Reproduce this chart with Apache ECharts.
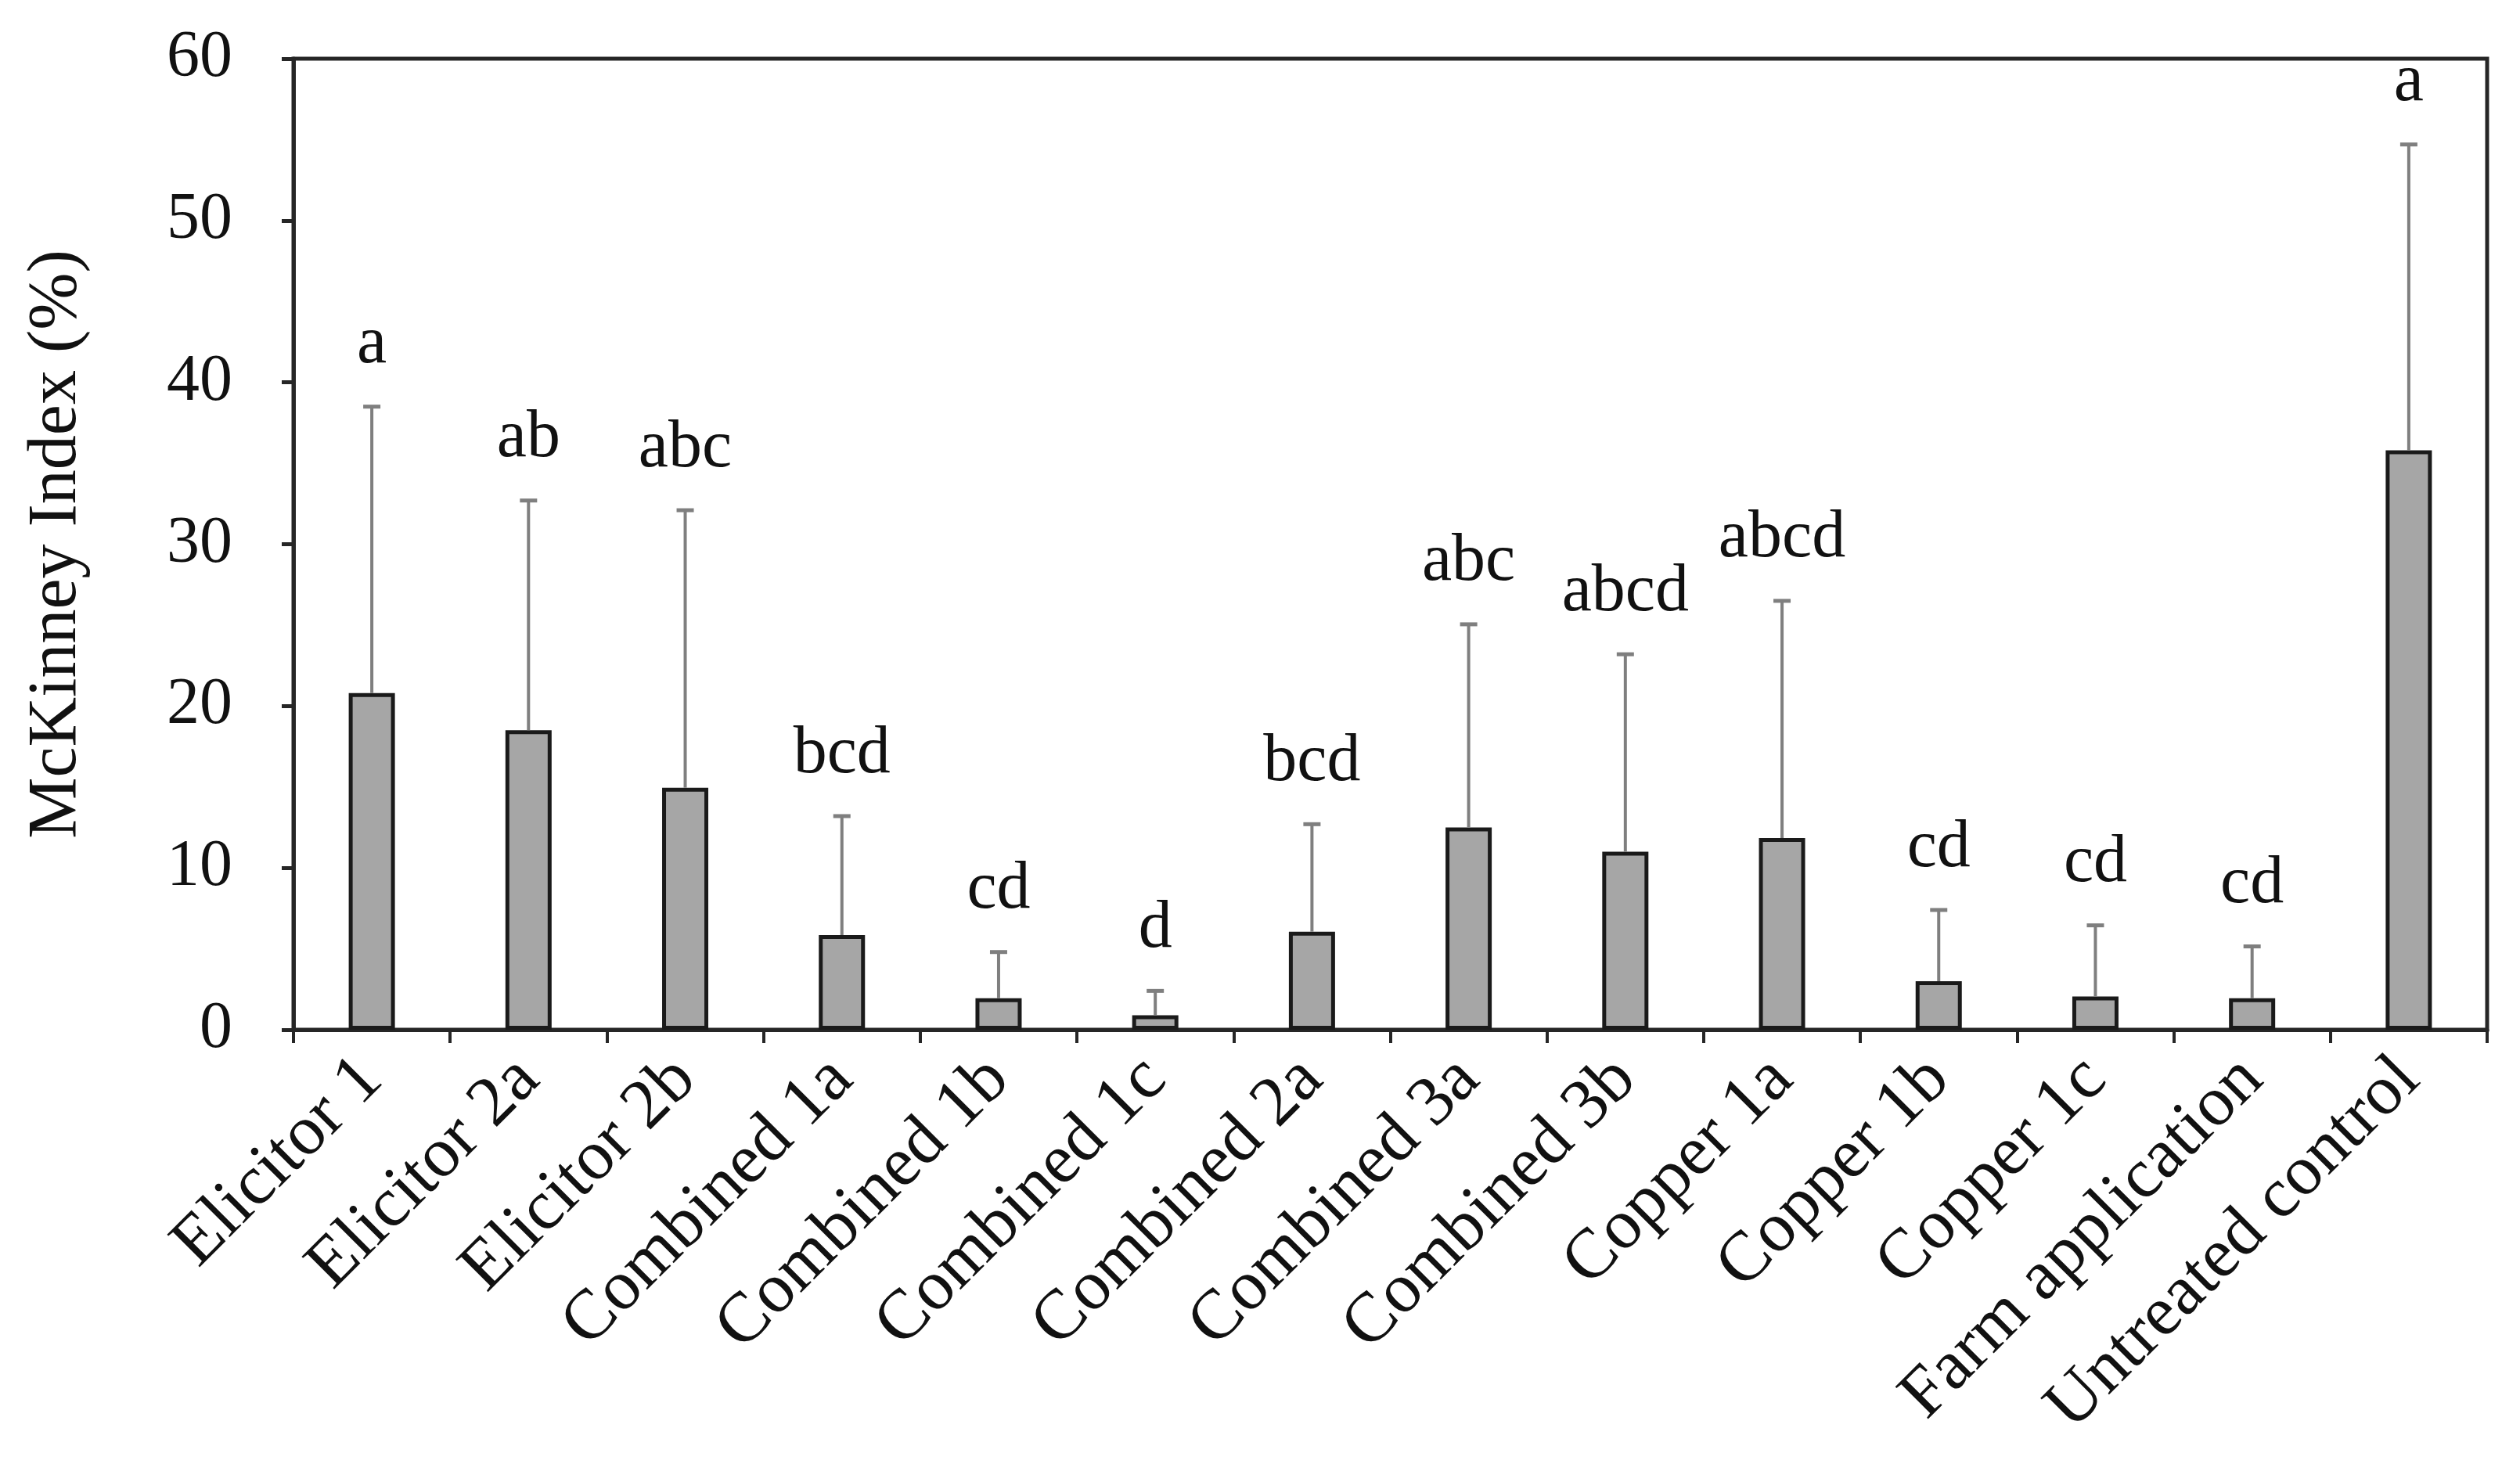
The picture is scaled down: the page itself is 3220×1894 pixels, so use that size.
<!DOCTYPE html>
<html>
<head>
<meta charset="utf-8">
<script src="https://cdn.jsdelivr.net/npm/echarts@6/dist/echarts.min.js"></script>
<style>
html,body{margin:0;padding:0;background:#fff;}
#chart{width:3220px;height:1894px;}
</style>
</head>
<body>
<div id="chart"></div>
<script>
const categories = ['Elicitor 1','Elicitor 2a','Elicitor 2b','Combined 1a','Combined 1b','Combined 1c','Combined 2a','Combined 3a','Combined 3b','Copper 1a','Copper 1b','Copper 1c','Farm application','Untreated control'];
const means = [20.8, 18.5, 14.95, 5.85, 1.95, 0.9, 6.05, 12.5, 11.0, 11.85, 3.0, 2.05, 1.95, 35.8];
const errorTops = [38.5, 32.7, 32.1, 13.2, 4.8, 2.4, 12.7, 25.05, 23.2, 26.5, 7.4, 6.45, 5.15, 54.7];
const letters = ['a','ab','abc','bcd','cd','d','bcd','abc','abcd','abcd','cd','cd','cd','a'];
const yTicks = [0, 10, 20, 30, 40, 50, 60];

const FONT = "'Liberation Serif', 'DejaVu Serif', serif";
const chart = echarts.init(document.getElementById('chart'), null, {renderer: 'canvas'});

const errData = categories.map((c, i) => [i, means[i], errorTops[i]]);

function renderErr(params, api) {
  const i = api.value(0);
  const base = api.coord([i, api.value(1)]);
  const top = api.coord([i, api.value(2)]);
  const cap = 11;
  return {
    type: 'group',
    children: [
      {type: 'line', shape: {x1: base[0], y1: base[1], x2: top[0], y2: top[1]}, style: {stroke: '#7f7f7f', lineWidth: 4}},
      {type: 'line', shape: {x1: top[0] - cap, y1: top[1], x2: top[0] + cap, y2: top[1]}, style: {stroke: '#7f7f7f', lineWidth: 5}},
      {type: 'text', x: top[0], y: top[1] - 36, style: {text: letters[i], font: '86px ' + FONT, fill: '#111', align: 'center', verticalAlign: 'bottom'}}
    ]
  };
}

chart.setOption({
  animation: false,
  backgroundColor: '#fff',
  grid: {left: 375, right: 42, top: 75, bottom: 578, show: true, borderColor: '#262626', borderWidth: 5, containLabel: false},
  xAxis: {
    type: 'category',
    data: categories,
    axisLine: {lineStyle: {color: '#262626', width: 5}},
    axisTick: {show: true, interval: 0, length: 17, lineStyle: {color: '#262626', width: 4}},
    axisLabel: {interval: 0, rotate: 45, fontSize: 90, fontFamily: FONT, color: '#111', margin: 50}
  },
  yAxis: {
    type: 'value',
    min: 0, max: 60, interval: 10,
    name: 'McKinney Index (%)',
    nameLocation: 'middle',
    nameGap: 258,
    nameTextStyle: {fontSize: 88, fontFamily: FONT, color: '#111'},
    axisLine: {show: true, lineStyle: {color: '#262626', width: 5}},
    axisTick: {show: true, length: 15, lineStyle: {color: '#262626', width: 5}},
    splitLine: {show: false},
    axisLabel: {fontSize: 84, fontFamily: FONT, color: '#111', margin: 78,
      formatter: v => yTicks.includes(v) ? String(v) : ''}
  },
  series: [
    {
      type: 'bar',
      data: means,
      barWidth: 59,
      itemStyle: {color: '#a6a6a6', borderColor: '#1a1a1a', borderWidth: 5}
    },
    {
      type: 'custom',
      data: errData,
      renderItem: renderErr,
      z: 3
    }
  ]
});
</script>
</body>
</html>
